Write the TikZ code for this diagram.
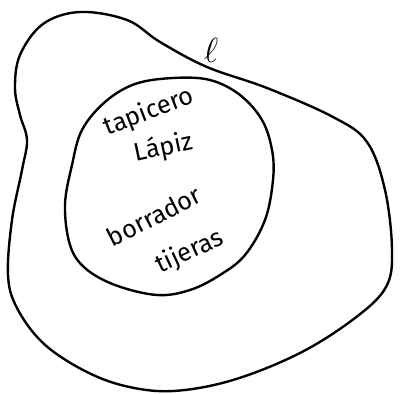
\documentclass[tikz,border=0pt]{standalone}
\usepackage{fontspec}
\setsansfont{Fira Sans}
\begin{document}
\begin{tikzpicture}[x=0.025cm,y=-0.025cm,
    curve/.style={line width=1.7pt,line join=round},
    word/.style={font=\sffamily\fontsize{18}{20}\selectfont,inner sep=0pt}]

    % frame
    \useasboundingbox (0,0) rectangle (409,394);

    % outer set
    \draw[curve] plot[smooth cycle,tension=0.6] coordinates {
        (207,67) (267,88) (333,117) (367,142) (385,190) (392,250)
        (386,287) (355,318) (300,353) (233,380) (173,391) (125,386)
        (83,370) (43,343) (17,308) (8,275) (12,220) (22,170)
        (27,140) (20,115) (15,88) (20,55) (43,24) (80,12)
        (127,20) (160,42)};

    % inner set
    \draw[curve] plot[smooth cycle,tension=0.6] coordinates {
        (173,78) (210,80) (240,95) (262,120) (272,150) (273,180)
        (265,220) (245,255) (220,275) (190,290) (157,295) (115,285)
        (85,268) (70,245) (65,205) (72,165) (82,130) (105,102)
        (135,84)};

    % set name
    \node[word,font=\fontsize{26}{28}\selectfont] (name) at (211,50) {$\ell$};

    % elements
    \node[word,rotate=21] (tapicero) at (149,112) {tapicero};
    \node[word,rotate=12] (lapiz) at (163,148) {Lápiz};
    \node[word,rotate=27] (borrador) at (154,216) {borrador};
    \node[word,rotate=25] (tijeras) at (190,252) {tijeras};

\end{tikzpicture}
\end{document}
